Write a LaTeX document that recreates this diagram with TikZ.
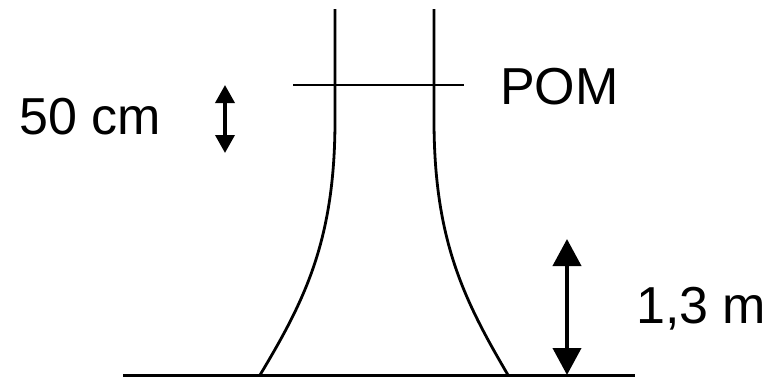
\documentclass[tikz,border=0pt]{standalone}
\usepackage{fontspec}
\setmainfont{Liberation Sans}
\usetikzlibrary{arrows.meta}
\begin{document}
\begin{tikzpicture}[x=1pt,y=-1pt,
  trunk/.style={line width=2.8pt},
  ground/.style={line width=3pt},
  dimsmall/.style={line width=3.6pt,{Triangle[length=18pt,width=19pt]}-{Triangle[length=18pt,width=19pt]}},
  dimbig/.style={line width=4pt,{Triangle[length=27pt,width=28pt]}-{Triangle[length=27pt,width=28pt]}},
  lbl/.style={inner sep=0pt,anchor=base west,font=\fontsize{52}{60}\selectfont}]
\useasboundingbox (0,0) rectangle (779,378);
% trunk
\draw[trunk] (335,9) -- (335,120) .. controls (335,240) and (305,300) .. (260,375);
\draw[trunk] (434,9) -- (434,120) .. controls (434,240) and (464,300) .. (508,375);
% ground
\coordinate (g1) at (123,375);
\coordinate (g2) at (635,375);
\draw[ground] (g1) -- (g2);
% POM line
\coordinate (p1) at (293,85);
\coordinate (p2) at (464,85);
\draw[trunk] (p1) -- (p2);
% arrows
\coordinate (s1) at (225,85);
\coordinate (s2) at (225,153);
\draw[dimsmall] (s1) -- (s2);
\coordinate (b1) at (567,239);
\coordinate (b2) at (567,375);
\draw[dimbig] (b1) -- (b2);
% labels
\node[lbl] (l50) at (19,134) {50 cm};
\node[lbl] (pom) at (500,104) {POM};
\node[lbl] (l13) at (636,323) {1,3 m};
\end{tikzpicture}
\end{document}
